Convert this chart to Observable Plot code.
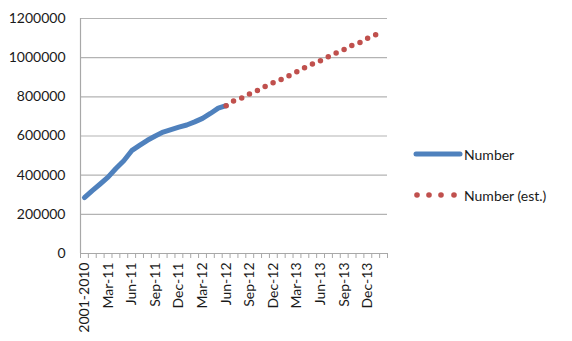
<!DOCTYPE html>
<html>
<head>
<meta charset="utf-8">
<script src="https://cdn.jsdelivr.net/npm/d3@7"></script>
<script src="https://cdn.jsdelivr.net/npm/@observablehq/plot@0.6"></script>
<style>
  html, body { margin: 0; padding: 0; background: #fff; }
  #wrap { position: relative; width: 572px; height: 341px; font-family: Lato, "Open Sans", sans-serif; }
  #legend { position: absolute; left: 413px; top: 144px; font-size: 14px; color: #1a1a1a; }
  .item { display: flex; align-items: center; height: 20px; }
  .item svg { display: block; }
  .item span { margin-left: 1px; }
</style>
</head>
<body>
<div id="wrap"><div id="legend"></div></div>
<script>
const categories = ["2001-2010",
  "Jan-11","Feb-11","Mar-11","Apr-11","May-11","Jun-11","Jul-11","Aug-11","Sep-11","Oct-11","Nov-11","Dec-11",
  "Jan-12","Feb-12","Mar-12","Apr-12","May-12","Jun-12","Jul-12","Aug-12","Sep-12","Oct-12","Nov-12","Dec-12",
  "Jan-13","Feb-13","Mar-13","Apr-13","May-13","Jun-13","Jul-13","Aug-13","Sep-13","Oct-13","Nov-13","Dec-13",
  "Jan-14","Feb-14"];
const numberCats = categories.slice(0, 19);
const numberValues = [285000, 321000, 355000, 390000, 434000, 474000, 525000, 552000, 578000, 600000,
  620000, 633000, 645000, 656000, 672000, 690000, 715000, 742000, 755000];
const estCats = categories.slice(18, 38);
const estValues = [755000, 780000, 794000, 815000, 833000, 854000, 872000, 889000, 908000, 928000,
  949000, 968000, 985000, 1005000, 1024000, 1042000, 1063000, 1078000, 1100000, 1117000];
const yTicks = [0, 200000, 400000, 600000, 800000, 1000000, 1200000];
const xLabels = ["2001-2010","Mar-11","Jun-11","Sep-11","Dec-11","Mar-12","Jun-12","Sep-12","Dec-12","Mar-13","Jun-13","Sep-13","Dec-13"];
const seriesNames = ["Number", "Number (est.)"];
const colors = ["#4f81bd", "#c0504d"];

const W = 572, H = 341, mL = 80, mR = 185, mT = 18, mB = 88;
const step = (W - mL - mR) / categories.length;
const axisGray = "#a8a8a8";

const numberData = numberCats.map((c, i) => ({c, v: numberValues[i]}));
const estData = estCats.map((c, i) => ({c, v: estValues[i]}));

const chart = Plot.plot({
  width: W, height: H,
  marginLeft: mL, marginRight: mR, marginTop: mT, marginBottom: mB,
  style: {fontFamily: "Lato, 'Open Sans', sans-serif", fontSize: "14px", color: "#1a1a1a", background: "white", overflow: "visible"},
  x: {type: "point", domain: categories, padding: 0.5, align: 0.5, label: null},
  y: {domain: [0, 1200000], label: null},
  marks: [
    Plot.gridY(yTicks, {stroke: "#b3b3b3", strokeOpacity: 1, strokeWidth: 1.2}),
    Plot.ruleY([0], {stroke: axisGray, strokeWidth: 1.2}),
    Plot.ruleX([categories[0]], {dx: -step / 2, stroke: axisGray, strokeWidth: 1.2}),
    Plot.ruleX(categories, {y1: 0, y2: 0, insetBottom: -5, dx: -step / 2, stroke: axisGray}),
    Plot.ruleX([categories[categories.length - 1]], {y1: 0, y2: 0, insetBottom: -5, dx: step / 2, stroke: axisGray}),
    Plot.ruleY(yTicks, {x: categories[0], dx: -step / 2, insetLeft: -4, stroke: axisGray}),
    Plot.axisY(yTicks, {tickSize: 0, tickPadding: 15, tickFormat: d => String(d), fontSize: 14, label: null}),
    Plot.axisX(xLabels, {tickSize: 0, tickPadding: 9, tickRotate: -90, fontSize: 14, label: null}),
    Plot.line(numberData, {x: "c", y: "v", stroke: colors[0], strokeWidth: 5, strokeLinecap: "round", strokeLinejoin: "round"}),
    Plot.line(estData, {x: "c", y: "v", stroke: colors[1], strokeWidth: 5.5, strokeLinecap: "round", strokeDasharray: "0,8.72"})
  ]
});
document.getElementById("wrap").prepend(chart);

const legend = document.getElementById("legend");
legend.innerHTML = `
  <div class="item" style="margin-bottom:21px">
    <svg width="50" height="10"><line x1="3" y1="5" x2="47" y2="5" stroke="${colors[0]}" stroke-width="5" stroke-linecap="round"/></svg>
    <span>${seriesNames[0]}</span>
  </div>
  <div class="item">
    <svg width="50" height="10">${[4, 16, 28, 41].map(x => `<circle cx="${x}" cy="5" r="2.8" fill="${colors[1]}"/>`).join("")}</svg>
    <span>${seriesNames[1]}</span>
  </div>`;
</script>
</body>
</html>
